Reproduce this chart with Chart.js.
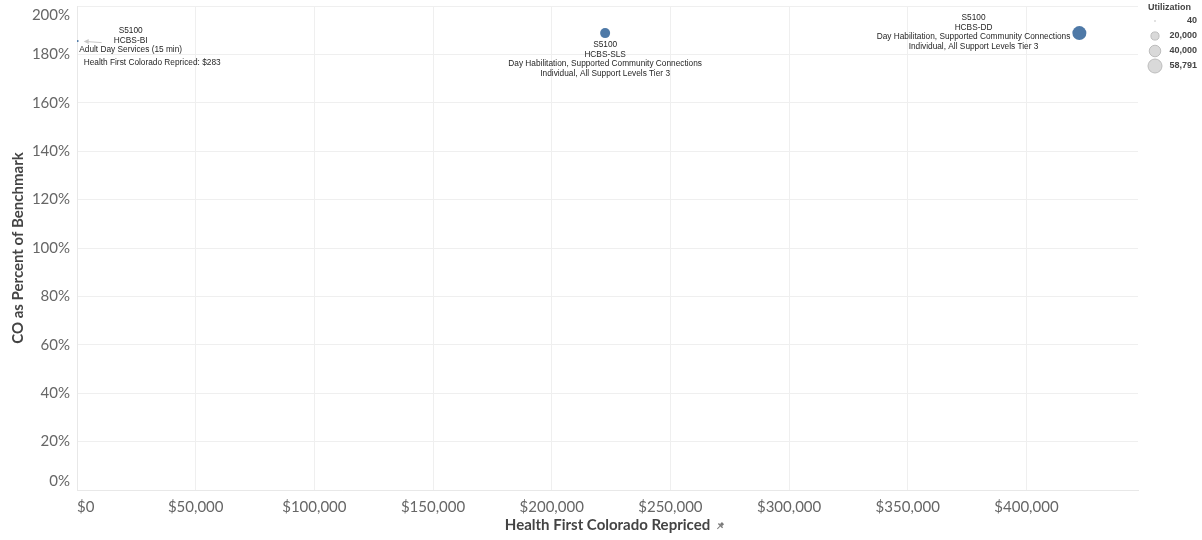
<!DOCTYPE html>
<html>
<head>
<meta charset="utf-8">
<script src="https://cdn.jsdelivr.net/npm/chart.js@4.4.0/dist/chart.umd.min.js"></script>
<style>
    body { margin: 0; background: #ffffff; }
</style>
</head>
<body>
<canvas id="scatterChart" width="1202" height="540"></canvas>
<script>
// Chart data
const codes = ['S5100', 'S5100', 'S5100'];
const programs = ['HCBS-BI', 'HCBS-SLS', 'HCBS-DD'];
const descriptions = [
    'Adult Day Services (15 min)',
    'Day Habilitation, Supported Community Connections',
    'Day Habilitation, Supported Community Connections'
];
const details = ['', 'Individual, All Support Levels Tier 3', 'Individual, All Support Levels Tier 3'];
const repriced = [283, 222500, 422300];
const pctOfBenchmark = [185.5, 188.8, 188.8];
const utilization = [40, 30000, 58791];

const xTicks = [0, 50000, 100000, 150000, 200000, 250000, 300000, 350000, 400000];
const xMax = 447000;
const yTicks = [0, 20, 40, 60, 80, 100, 120, 140, 160, 180, 200];

const legendValues = [40, 20000, 40000, 58791];
const legendLabels = ['40', '20,000', '40,000', '58,791'];

const maxUtil = 58791;
const labelFont = "8.3px 'Liberation Sans', Arial, sans-serif";
const axisFont = "Lato, 'Open Sans', sans-serif";

// bubble radius from utilization (area scaled)
function sizeOf(u) {
    return Math.max(1, 7 * Math.sqrt(u / maxUtil));
}

function money(v) {
    return '$' + Math.round(v).toLocaleString('en-US');
}

const bubbleData = repriced.map((v, i) => ({
    x: v,
    y: pctOfBenchmark[i],
    r: sizeOf(utilization[i])
}));

// draws the mark labels next to each bubble
const markLabels = {
    id: 'markLabels',
    afterDatasetsDraw(chart) {
        const ctx = chart.ctx;
        const xs = chart.scales.x;
        const ys = chart.scales.y;
        ctx.save();
        ctx.font = labelFont;
        ctx.fillStyle = '#262626';
        ctx.textBaseline = 'middle';

        for (let i = 0; i < repriced.length; i++) {
            const px = xs.getPixelForValue(repriced[i]);
            const py = ys.getPixelForValue(pctOfBenchmark[i]);
            const r = sizeOf(utilization[i]);
            const lines = [codes[i], programs[i], descriptions[i]];
            if (details[i]) lines.push(details[i]);

            if (i === 0) {
                // small mark: label off to the right with an arrow
                ctx.textAlign = 'center';
                const cx = px + 53;
                lines.forEach((t, k) => ctx.fillText(t, cx, py - 10 + k * 9.5));
                ctx.textAlign = 'left';
                ctx.fillText('Health First Colorado Repriced: ' + money(repriced[i]), px + 6, py + 22);
                ctx.strokeStyle = '#c8c8c8';
                ctx.fillStyle = '#c8c8c8';
                ctx.lineWidth = 1;
                ctx.beginPath();
                ctx.moveTo(px + 24, py + 1.5);
                ctx.lineTo(px + 9, py + 0.5);
                ctx.stroke();
                ctx.beginPath();
                ctx.moveTo(px + 6, py + 0.3);
                ctx.lineTo(px + 11, py - 2);
                ctx.lineTo(px + 11, py + 3);
                ctx.closePath();
                ctx.fill();
                ctx.fillStyle = '#262626';
            } else if (i === 1) {
                ctx.textAlign = 'center';
                lines.forEach((t, k) => ctx.fillText(t, px, py + 12 + k * 9.5));
            } else {
                ctx.textAlign = 'center';
                const widest = Math.max(...lines.map(t => ctx.measureText(t).width));
                const cx = px - r - 2 - widest / 2;
                lines.forEach((t, k) => ctx.fillText(t, cx, py - 15 + k * 9.5));
            }
        }
        ctx.restore();
    }
};

// size legend in the top right corner, plus the pin after the x title
const sizeLegend = {
    id: 'sizeLegend',
    afterDraw(chart) {
        const ctx = chart.ctx;
        ctx.save();
        ctx.textBaseline = 'middle';
        ctx.textAlign = 'left';
        ctx.fillStyle = '#444444';
        ctx.font = "bold 9px 'Liberation Sans', Arial, sans-serif";
        ctx.fillText('Utilization', 1148, 8);

        const rowY = [21, 36, 51, 66];
        legendValues.forEach((v, i) => {
            ctx.beginPath();
            ctx.arc(1155, rowY[i], sizeOf(v), 0, Math.PI * 2);
            ctx.fillStyle = '#d9d9d9';
            ctx.fill();
            ctx.strokeStyle = '#bdbdbd';
            ctx.lineWidth = 1;
            if (v > 1000) ctx.stroke();
            ctx.fillStyle = '#444444';
            ctx.textAlign = 'right';
            ctx.fillText(legendLabels[i], 1197, rowY[i]);
        });

        // pin icon
        const xs = chart.scales.x;
        ctx.font = 'bold 15px ' + axisFont;
        const titleW = ctx.measureText(xs.options.title.text).width;
        const pinX = (xs.left + xs.right) / 2 + titleW / 2 + 10;
        ctx.translate(pinX, 526);
        ctx.rotate(Math.PI / 4);
        ctx.fillStyle = '#7a7a7a';
        ctx.fillRect(-1.5, -4, 3, 3);
        ctx.fillRect(-3, -1.2, 6, 1.4);
        ctx.fillRect(-0.5, 0, 1, 4);
        ctx.restore();
    }
};

const ctx = document.getElementById('scatterChart').getContext('2d');
const myChart = new Chart(ctx, {
    type: 'bubble',
    data: {
        datasets: [{
            data: bubbleData,
            backgroundColor: '#4e79a7',
            borderWidth: 0,
            hoverRadius: 0,
        }],
    },
    options: {
        responsive: false,
        animation: false,
        events: [],
        layout: {
            autoPadding: false,
            padding: {top: 6, right: 64, left: 0, bottom: 0}
        },
        scales: {
            x: {
                type: 'linear',
                min: 0,
                max: xMax,
                afterFit: axis => {
                    axis.height = 50;
                    axis.paddingLeft = 0;
                    axis.paddingRight = 0;
                },
                // the last tick sits on the right edge and stays blank
                afterBuildTicks: axis => axis.ticks = xTicks.concat([xMax]).map(v => ({value: v})),
                grid: {
                    color: c => (c.tick && c.tick.value === xMax) ? 'rgba(0,0,0,0)' : '#efefef',
                    drawTicks: false,
                },
                border: {
                    color: '#e8e8e8',
                },
                ticks: {
                    align: 'inner',
                    maxRotation: 0,
                    autoSkip: false,
                    padding: 8,
                    color: '#666666',
                    font: {family: axisFont, size: 15},
                    callback: value => value === xMax ? '' : money(value),
                },
                title: {
                    display: true,
                    text: 'Health First Colorado Repriced',
                    color: '#444444',
                    font: {family: axisFont, size: 15, weight: 'bold'},
                    padding: {top: 0, bottom: 6},
                }
            },
            y: {
                min: 0,
                max: 200,
                afterFit: axis => {
                    axis.width = 77;
                    axis.paddingTop = 0;
                    axis.paddingBottom = 0;
                },
                afterBuildTicks: axis => axis.ticks = yTicks.map(v => ({value: v})),
                grid: {
                    color: '#efefef',
                    drawTicks: false,
                },
                border: {
                    color: '#e8e8e8',
                },
                ticks: {
                    padding: 7,
                    color: '#666666',
                    font: {family: axisFont, size: 15},
                    // edge labels are nudged inside the plot
                    callback: value => {
                        if (value === 200) return ['', value + '%'];
                        if (value === 0) return [value + '%', ''];
                        return value + '%';
                    },
                },
                title: {
                    display: true,
                    text: 'CO as Percent of Benchmark',
                    color: '#444444',
                    font: {family: axisFont, size: 15, weight: 'bold'},
                    padding: {top: 9, bottom: 0},
                }
            }
        },
        plugins: {
            legend: {display: false},
            tooltip: {enabled: false},
        }
    },
    plugins: [markLabels, sizeLegend],
});
</script>
</body>
</html>
